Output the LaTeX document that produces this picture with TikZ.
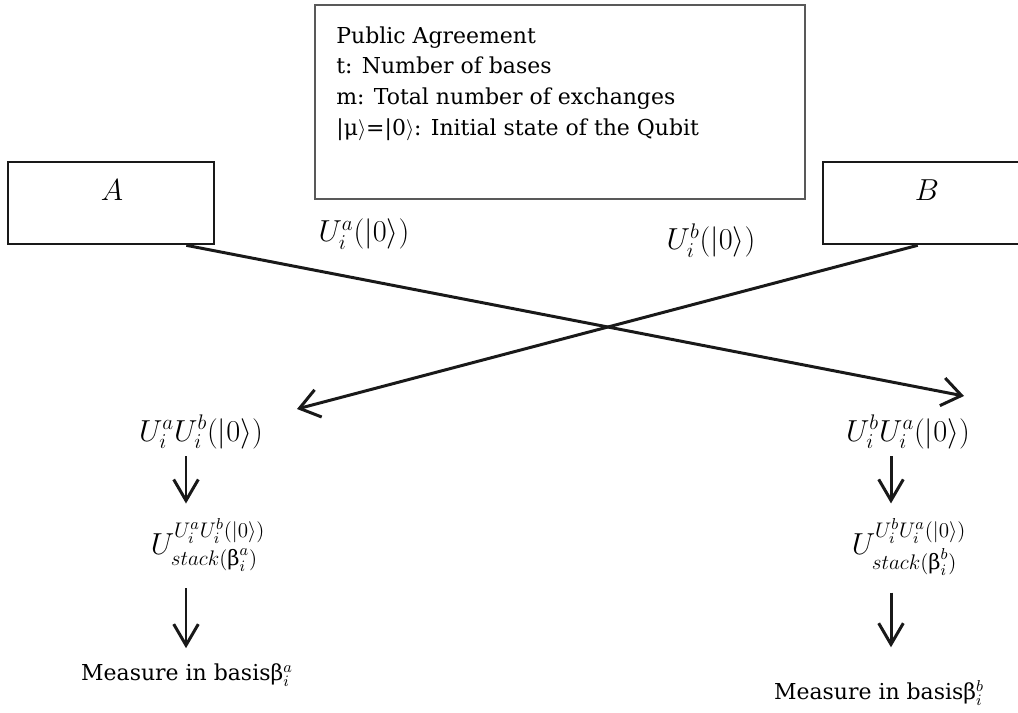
\documentclass[tikz,border=0pt]{standalone}
\usepackage{fontspec}
\usepackage{amsmath}
\setmainfont{DejaVu Serif}
\DeclareMathSizes{16}{16}{12}{9}
\DeclareMathSizes{12.5}{12.5}{9.5}{7}
\usetikzlibrary{positioning, calc, arrows.meta}
\tikzset{
    party/.style={draw=black!90, line width=1.5pt, minimum width=4.12cm, minimum height=1.64cm},
    agreement/.style={draw=black!65, line width=0.9pt, minimum width=9.8cm, minimum height=3.88cm},
    plain/.style={inner sep=0pt, font=\fontsize{12.5}{17.6}\selectfont},
    formula/.style={inner sep=0pt, font=\fontsize{16}{19}\selectfont},
    exchange/.style={line width=1.7pt, draw=black!90, -{Straight Barb[length=11pt,width=16pt]}},
    flow/.style={line width=1.7pt, draw=black!90, -{Straight Barb[length=12pt,width=14pt]}},
}

\begin{document}
\begin{tikzpicture}[x=0.02cm, y=-0.02cm]
    \useasboundingbox (0,0) rectangle (1018,713);
    \clip (0,0) rectangle (1018,713);

    % agreement box
    \node[agreement] (pub) at (560,102) {};
    \node[plain, align=left, anchor=north west] (pubtext) at (336,26)
        {Public Agreement\\
         t: Number of bases\\
         m: Total number of exchanges\\
         |μ$\rangle$=|0$\rangle$: Initial state of the Qubit};

    % the two parties
    \node[party] (A) at (111,203) {};
    \node[formula] (Aname) at (112,190) {$A$};
    \node[party] (B) at (926,203) {};
    \node[formula] (Bname) at (927,190) {$B$};

    % sent states
    \node[formula] (senta) at (364,234) {$U_i^{a}(|0\rangle)$};
    \node[formula] (sentb) at (711,241) {$U_i^{b}(|0\rangle)$};

    \coordinate (Ain) at (964,396);
    \coordinate (Bin) at (297,409);
    \draw[exchange] ($(A.south east)+(-29,0)$) -- (Ain);
    \draw[exchange] ($(B.south west)+(96,0)$) -- (Bin);

    % left column
    \coordinate (colA) at (186,0);
    \node[formula] (la1) at (201,432) {$U_i^{a}U_i^{b}(|0\rangle)$};
    \node[formula] (la2) at (208,545) {$U^{U_i^{a}U_i^{b}(|0\rangle)}_{stack(\text{β}_i^{a})}$};
    \node[plain] (la3) at (187,675) {Measure in basisβ$_i^{a}$};
    \draw[flow, shorten <=0.14cm, shorten >=0.3cm] (la1.south -| colA) -- (la2.north -| colA);
    \draw[flow, shorten <=0.34cm, shorten >=0.3cm] (la2.south -| colA) -- (la3.north -| colA);

    % right column
    \coordinate (colB) at (891,0);
    \node[formula] (ra1) at (908,432) {$U_i^{b}U_i^{a}(|0\rangle)$};
    \node[formula] (ra2) at (909,547) {$U^{U_i^{b}U_i^{a}(|0\rangle)}_{stack(\text{β}_i^{b})}$};
    \node[plain] (ra3) at (879,693) {Measure in basisβ$_i^{b}$};
    \draw[flow, shorten <=0.14cm, shorten >=0.3cm] (ra1.south -| colB) -- (ra2.north -| colB);
    \draw[flow, shorten <=0.34cm, shorten >=0.66cm] (ra2.south -| colB) -- (ra3.north -| colB);
\end{tikzpicture}
\end{document}
